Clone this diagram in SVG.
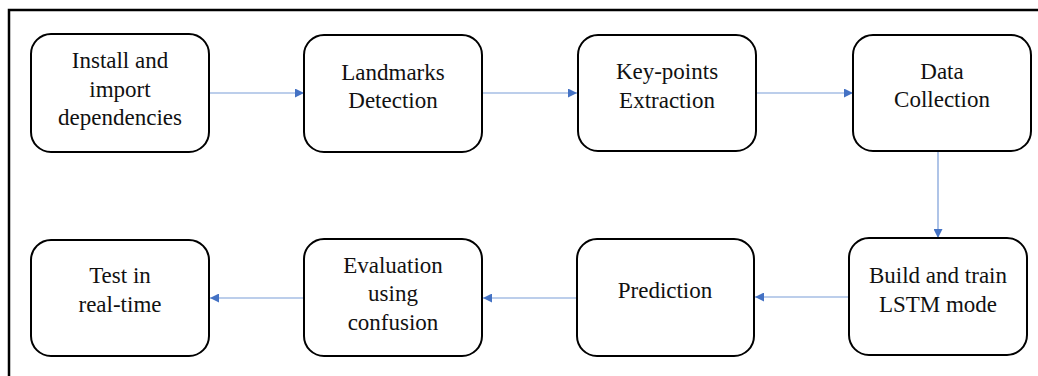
<svg xmlns="http://www.w3.org/2000/svg" width="1038" height="376" viewBox="0 0 1038 376">
<style>
.box{fill:#fff;stroke:#000;stroke-width:2}
.t{font-family:'Liberation Serif',Tinos,'Times New Roman','DejaVu Serif',serif;font-size:23px;fill:#111;text-anchor:middle}
.c{stroke:#7a9dd8;stroke-width:1.2;fill:none}
</style>
<defs>
<marker id="ah" viewBox="0 0 10 10" refX="10" refY="5" markerWidth="11" markerHeight="9" markerUnits="userSpaceOnUse" orient="auto">
<path d="M0,0 L10,5 L0,10 z" fill="#4472c4"/>
</marker>
</defs>
<rect x="0" y="0" width="1038" height="376" fill="#fff"/>
<path d="M9,376 V10 H1038" fill="none" stroke="#000" stroke-width="2.5"/>
<g id="connectors">
<line class="c" x1="210" y1="93" x2="304" y2="93" marker-end="url(#ah)"/>
<line class="c" x1="483" y1="93" x2="577" y2="93" marker-end="url(#ah)"/>
<line class="c" x1="757" y1="93" x2="853" y2="93" marker-end="url(#ah)"/>
<line class="c" x1="938" y1="152" x2="938" y2="238" marker-end="url(#ah)"/>
<line class="c" x1="848" y1="297" x2="755" y2="297" marker-end="url(#ah)"/>
<line class="c" x1="576" y1="298" x2="483" y2="298" marker-end="url(#ah)"/>
<line class="c" x1="303" y1="298" x2="210" y2="298" marker-end="url(#ah)"/>
</g>
<g id="n1"><rect class="box" x="31" y="34" width="178" height="118" rx="20"/>
<text class="t" x="120" y="68">Install and</text><text class="t" x="120" y="97">import</text><text class="t" x="120" y="125">dependencies</text></g>
<g id="n2"><rect class="box" x="304" y="35" width="178" height="117" rx="20"/>
<text class="t" x="393" y="80">Landmarks</text><text class="t" x="393" y="108">Detection</text></g>
<g id="n3"><rect class="box" x="578" y="35" width="178" height="116" rx="20"/>
<text class="t" x="667" y="79">Key-points</text><text class="t" x="667" y="108">Extraction</text></g>
<g id="n4"><rect class="box" x="853" y="35" width="178" height="116" rx="20"/>
<text class="t" x="942" y="79">Data</text><text class="t" x="942" y="107">Collection</text></g>
<g id="n5"><rect class="box" x="849" y="238" width="178" height="117" rx="20"/>
<text class="t" x="938" y="283">Build and train</text><text class="t" x="938" y="312">LSTM mode</text></g>
<g id="n6"><rect class="box" x="577" y="239" width="177" height="117" rx="20"/>
<text class="t" x="665" y="298">Prediction</text></g>
<g id="n7"><rect class="box" x="304" y="239" width="178" height="117" rx="20"/>
<text class="t" x="393" y="273">Evaluation</text><text class="t" x="393" y="301">using</text><text class="t" x="393" y="330">confusion</text></g>
<g id="n8"><rect class="box" x="31" y="240" width="178" height="116" rx="20"/>
<text class="t" x="120" y="283">Test in</text><text class="t" x="120" y="312">real-time</text></g>
</svg>
